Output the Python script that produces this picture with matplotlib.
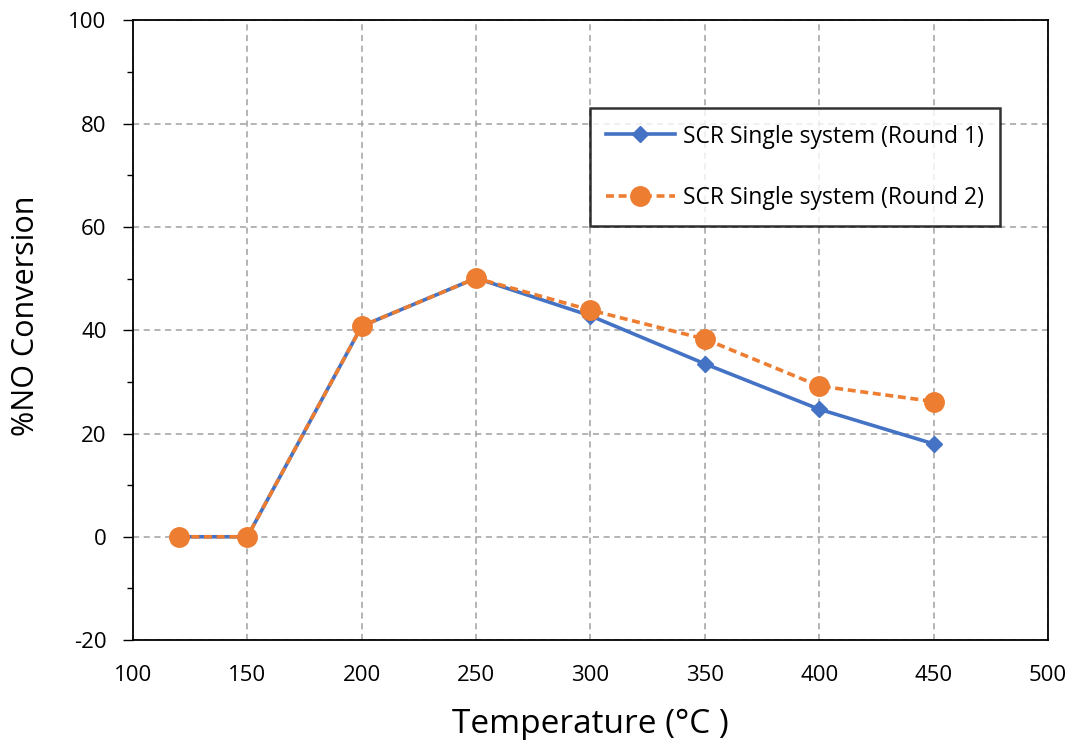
import numpy as np
import matplotlib.pyplot as plt
from matplotlib.ticker import MultipleLocator

plt.rcParams['font.family'] = ['Open Sans', 'DejaVu Sans']
plt.rcParams['axes.unicode_minus'] = False

temperature = [120, 150, 200, 250, 300, 350, 400, 450]
round1 = [0, 0, 40.8, 50.1, 42.8, 33.5, 24.7, 18.0]
round2 = [0, 0, 40.8, 50.1, 43.9, 38.3, 29.2, 26.2]
labels = ["SCR Single system (Round 1)", "SCR Single system (Round 2)"]

fig = plt.figure(figsize=(10.75, 7.4), dpi=100)
ax = fig.add_axes([0.1237, 0.1351, 0.9749 - 0.1237, 0.9723 - 0.1351])

ax.plot(temperature, round1, color='#4472C4', lw=2.6, marker='D', markersize=8.5,
        label=labels[0], zorder=3)
ax.plot(temperature, round2, color='#ED7D31', lw=2.6, linestyle=(0, (2.2, 1.3)),
        marker='o', markersize=14, label=labels[1], zorder=4)

ax.set_xlim(100, 500)
ax.set_ylim(-20, 100)
ax.xaxis.set_major_locator(MultipleLocator(50))
ax.yaxis.set_major_locator(MultipleLocator(20))
ax.yaxis.set_minor_locator(MultipleLocator(10))
ax.grid(True, color='#A0A0A0', linestyle=(0, (4, 3)), lw=1.1, zorder=0)

ax.tick_params(axis='x', length=0, pad=18, labelsize=16)
ax.tick_params(axis='y', which='major', length=7, width=1, pad=12, labelsize=16)
ax.tick_params(axis='y', which='minor', length=4, width=1)
for s in ax.spines.values():
    s.set_color('black')
    s.set_linewidth(1.3)

ax.set_xlabel('Temperature (°C )', fontsize=24)
ax.xaxis.set_label_coords(0.5, -0.11)
ax.set_ylabel('%NO Conversion', fontsize=22)
ax.yaxis.set_label_coords(-0.1, 0.524)

leg = ax.legend(loc='upper left', bbox_to_anchor=(0.4995, 0.858), borderaxespad=0,
                fontsize=16.5, frameon=True, fancybox=False, edgecolor='black',
                handlelength=3.0, handletextpad=0.35, labelspacing=1.65,
                borderpad=0.7)
leg.get_frame().set_linewidth(1.8)

fig.savefig('out.png', dpi=100)
